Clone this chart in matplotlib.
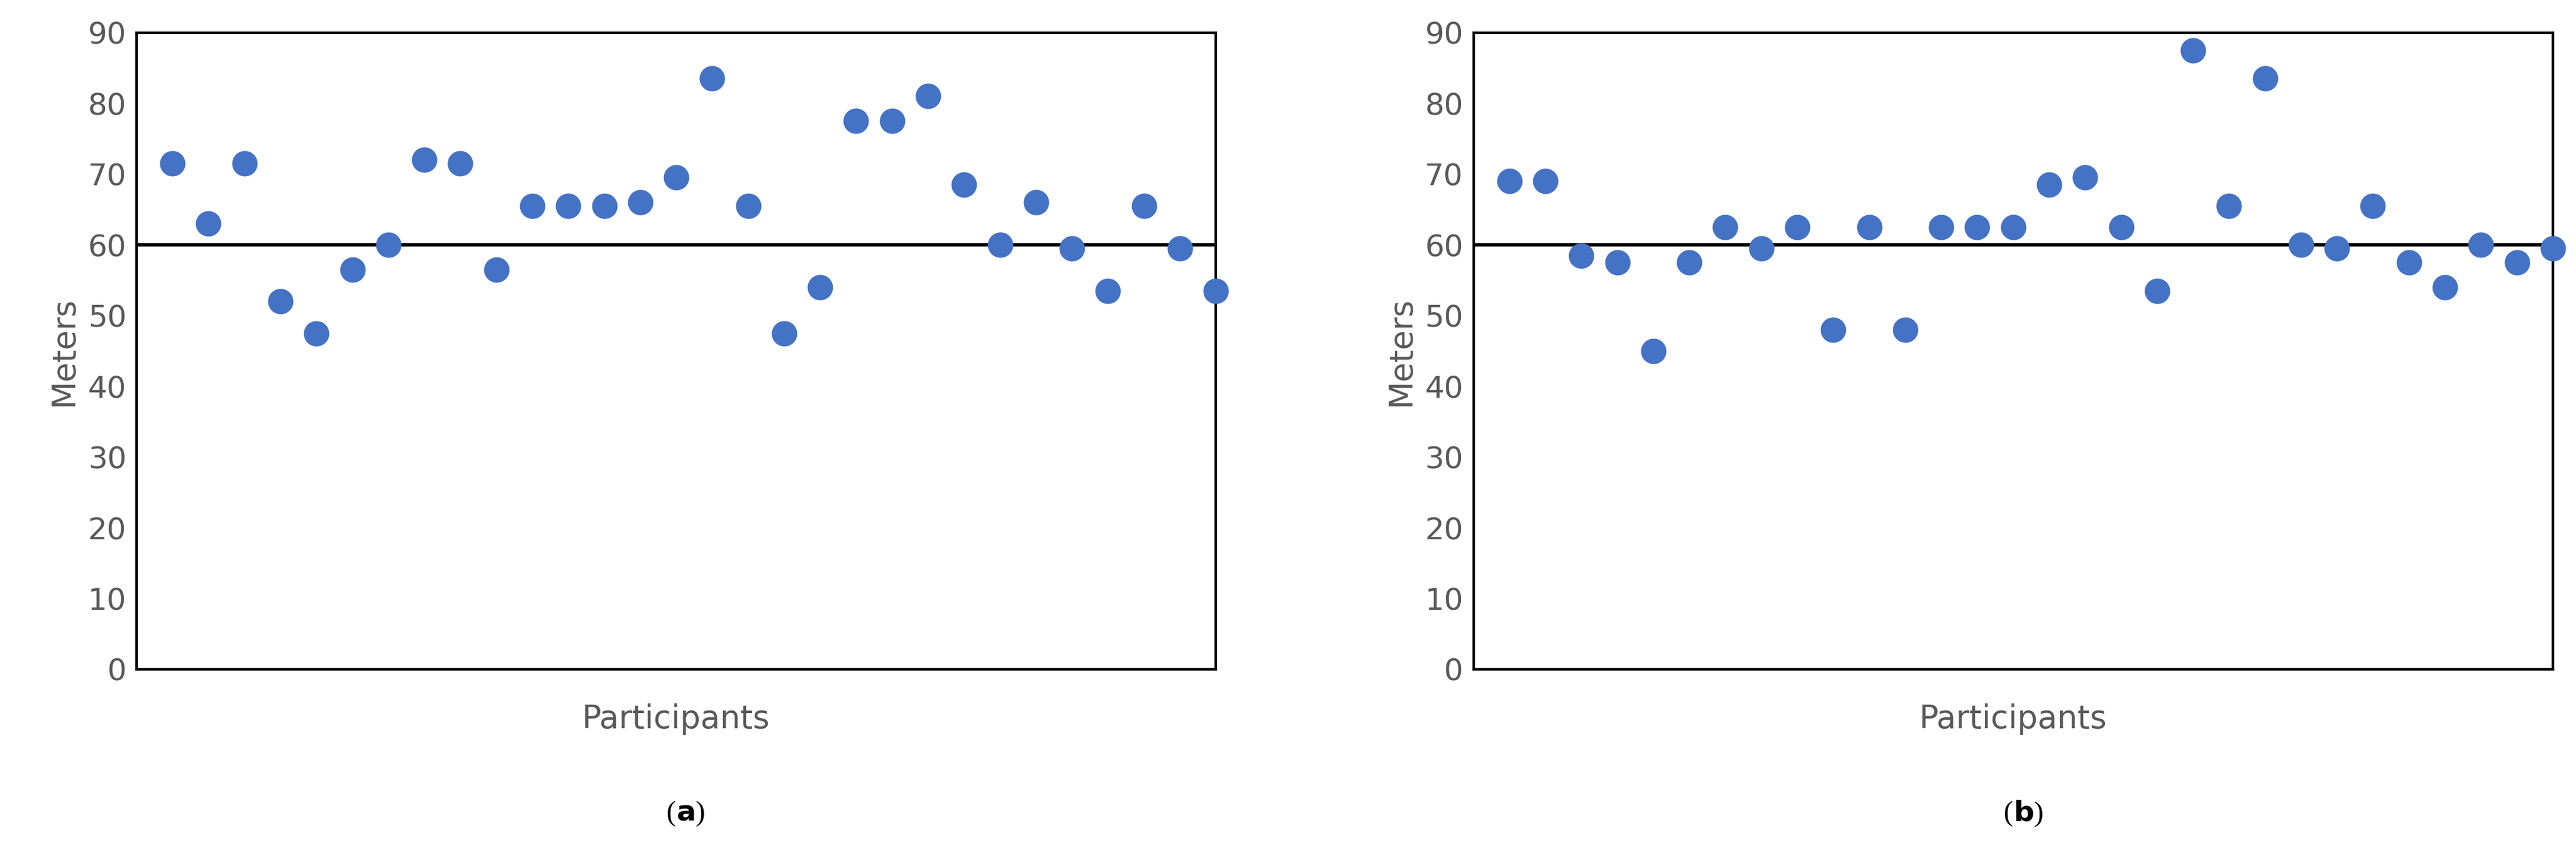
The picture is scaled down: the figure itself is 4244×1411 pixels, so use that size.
import matplotlib
matplotlib.use('Agg')
import matplotlib.pyplot as plt
import numpy as np

participants = np.arange(1, 31)
meters_a = [71.5, 63, 71.5, 52, 47.5, 56.5, 60, 72, 71.5, 56.5, 65.5, 65.5, 65.5, 66, 69.5,
            83.5, 65.5, 47.5, 54, 77.5, 77.5, 81, 68.5, 60, 66, 59.5, 53.5, 65.5, 59.5, 53.5]
meters_b = [69, 69, 58.5, 57.5, 45, 57.5, 62.5, 59.5, 62.5, 48, 62.5, 48, 62.5, 62.5, 62.5,
            68.5, 69.5, 62.5, 53.5, 87.5, 65.5, 83.5, 60, 59.5, 65.5, 57.5, 54, 60, 57.5, 59.5]
threshold = 60
panel_labels = ['a', 'b']

fig = plt.figure(figsize=(42.44, 14.11), dpi=100)
grey = '#595959'
for left, vals, lab in [(0.053, meters_a, 'a'), (0.572, meters_b, 'b')]:
    ax = fig.add_axes([left, 0.219, 0.419, 0.743])
    ax.scatter(participants, vals, s=850, color='#4472C4', zorder=3, clip_on=False)
    ax.axhline(threshold, color='black', linewidth=4, zorder=2)
    ax.set_xlim(0, 30)
    ax.set_ylim(0, 90)
    ax.set_yticks(range(0, 91, 10))
    ax.set_xticks([])
    for s in ax.spines.values():
        s.set_color('black')
        s.set_linewidth(3)
    ax.tick_params(axis='y', labelsize=36, labelcolor=grey, length=0, pad=12)
    ax.set_ylabel('Meters', fontsize=38, color=grey, labelpad=10)
    ax.set_xlabel('Participants', fontsize=38, color=grey, labelpad=40)
    ax.text(0.5, -0.227, '(', transform=ax.transAxes, ha='right', va='center',
            fontsize=34, family='Liberation Serif')
    ax.text(0.5, -0.227, r'$\mathbf{%s}$)' % lab, transform=ax.transAxes, ha='left',
            va='center', fontsize=34, family='Liberation Serif')

fig.savefig('out.png', dpi=100)
